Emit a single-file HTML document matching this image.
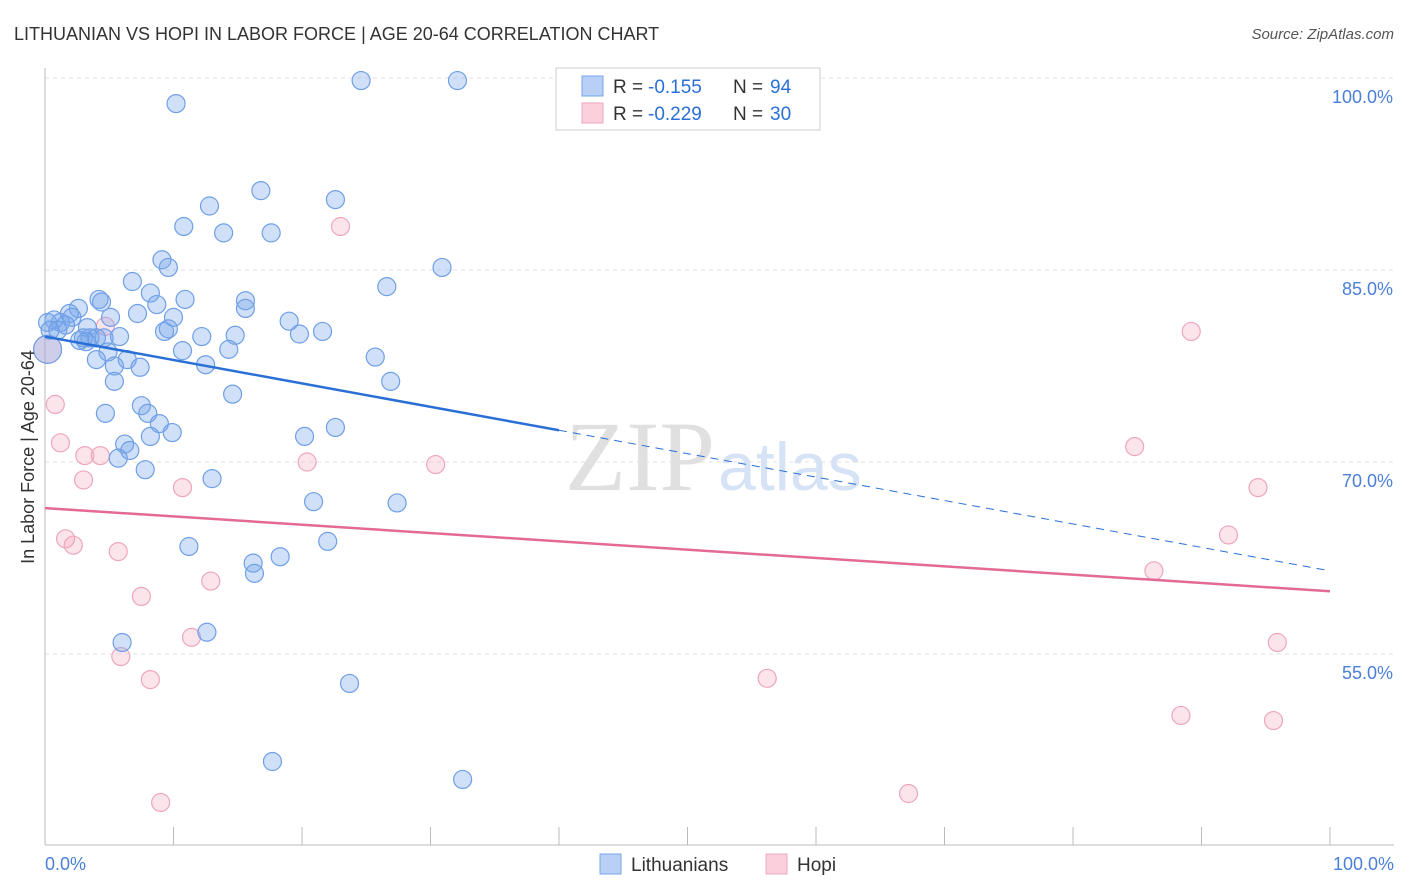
<!DOCTYPE html>
<html><head><meta charset="utf-8"><style>
body{margin:0;background:#fff;font-family:"Liberation Sans",sans-serif;}
svg{display:block}
</style></head><body>
<svg id="chart" width="1406" height="892" xmlns="http://www.w3.org/2000/svg">
<text x="14" y="40" font-size="18" fill="#333">LITHUANIAN VS HOPI IN LABOR FORCE | AGE 20-64 CORRELATION CHART</text>
<text x="1394" y="39" font-size="15" fill="#555" font-style="italic" text-anchor="end">Source: ZipAtlas.com</text>
<text x="715" y="490" font-size="100" fill="#e0e0e0" text-anchor="end" font-family="Liberation Serif,serif">ZIP</text>
<text x="718" y="490" font-size="68" fill="#d6e2f5">atlas</text>
<g id="grid"></g><g id="axes"></g><g id="marks"></g>
<text transform="translate(34,457) rotate(-90)" font-size="18" fill="#333" text-anchor="middle">In Labor Force | Age 20-64</text>
<text x="45" y="870" font-size="18" fill="#4a7fd8">0.0%</text>
<text x="1394" y="870" font-size="18" fill="#4a7fd8" text-anchor="end">100.0%</text>
<g>
<rect x="556" y="68" width="264" height="62" fill="#fff" stroke="#ccc"/>
<rect x="582" y="76" width="21" height="20" fill="#b8d0f5" stroke="#7aa5e8"/>
<rect x="582" y="103" width="21" height="20" fill="#fbcfdc" stroke="#eea7bd"/>
<text x="613" y="93" font-size="19" fill="#333">R =</text>
<text x="648" y="93" font-size="19" fill="#2a6fd6">-0.155</text>
<text x="733" y="93" font-size="19" fill="#333">N =</text>
<text x="770" y="93" font-size="19" fill="#2a6fd6">94</text>
<text x="613" y="120" font-size="19" fill="#333">R =</text>
<text x="648" y="120" font-size="19" fill="#2a6fd6">-0.229</text>
<text x="733" y="120" font-size="19" fill="#333">N =</text>
<text x="770" y="120" font-size="19" fill="#2a6fd6">30</text>
</g>
<g>
<rect x="600" y="854" width="21" height="20" fill="#b8d0f5" stroke="#7aa5e8"/>
<text x="631" y="871" font-size="19" fill="#333">Lithuanians</text>
<rect x="766" y="854" width="21" height="20" fill="#fbcfdc" stroke="#eea7bd"/>
<text x="797" y="871" font-size="19" fill="#333">Hopi</text>
</g>
</svg>
<script>
const yTicks=[100,85,70,55];
const yTickLabels=["100.0%","85.0%","70.0%","55.0%"];
const xTicks=[10,20,30,40,50,60,70,80,90,100];
const blueX=[24.6,32.1,10.2,16.8,22.6,12.8,10.8,13.9,17.6,9.1,9.6,30.9,6.8,26.6,8.2,4.2,4.4,10.9,15.6,8.7,15.6,7.2,10.0,2.6,1.9,2.1,0.7,1.2,1.6,0.2,19.0,5.1,21.6,19.8,3.3,9.3,9.6,3.0,3.5,4.0,4.6,5.8,12.2,14.8,3.2,4.9,10.7,14.3,25.7,4.0,6.4,5.4,7.4,12.5,5.4,26.9,14.6,7.5,4.7,8.0,8.9,9.9,8.2,20.2,22.6,6.2,6.6,5.7,7.8,13.0,20.9,27.4,11.2,22.0,18.3,16.2,16.3,6.0,12.6,23.7,17.7,32.5,0.4,1.0,2.7];
const blueY=[99.8,99.8,98.0,91.2,90.5,90.0,88.4,87.9,87.9,85.8,85.2,85.2,84.1,83.7,83.2,82.7,82.5,82.7,82.6,82.3,82.0,81.6,81.3,82.0,81.6,81.3,81.1,80.9,80.7,80.9,81.0,81.3,80.2,80.0,80.5,80.2,80.4,79.7,79.7,79.7,79.7,79.8,79.8,79.9,79.4,78.6,78.7,78.8,78.2,78.0,78.0,77.5,77.4,77.6,76.3,76.3,75.3,74.4,73.8,73.8,73.0,72.3,72.0,72.0,72.7,71.4,70.9,70.3,69.4,68.7,66.9,66.8,63.4,63.8,62.6,62.1,61.3,55.9,56.7,52.7,46.6,45.2,80.3,80.3,79.5];
const pinkX=[0.8,1.2,3.0,3.1,4.3,4.7,1.6,2.2,5.7,7.5,5.9,8.2,9.0,10.7,11.4,12.9,20.4,23.0,30.4,56.2,67.2,84.8,86.3,89.2,88.4,92.1,94.4,95.9,95.6];
const pinkY=[74.5,71.5,68.6,70.5,70.5,80.6,64.0,63.5,63.0,59.5,54.8,53.0,43.4,68.0,56.3,60.7,70.0,88.4,69.8,53.1,44.1,71.2,61.5,80.2,50.2,64.3,68.0,55.9,49.8];
const bigBlue=[0.2,78.8];
const bigPink=[0.2,78.8];
const blueTrend=[79.8,61.5];
const pinkTrend=[66.4,59.9];
const blueSolidEnd=40;

const NS="http://www.w3.org/2000/svg";
const X=v=>45+v*12.85;
const Y=v=>78+(100-v)*12.8;
function mk(p,t,a){const e=document.createElementNS(NS,t);for(const k in a)e.setAttribute(k,a[k]);p.appendChild(e);return e;}
const grid=document.getElementById('grid'),axes=document.getElementById('axes'),marks=document.getElementById('marks');
yTicks.forEach((t,i)=>{
 const l=mk(grid,'line',{x1:45,x2:1394,y1:Y(t),y2:Y(t),stroke:'#e2e2e2','stroke-dasharray':'4,4'});
 
 
 const tx=mk(grid,'text',{x:1393,y:Y(t)+25,'font-size':18,fill:'#4a7fd8','text-anchor':'end'});
 tx.textContent=yTickLabels[i];
 
 
});
let a=mk(axes,'line',{x1:45,x2:45,y1:68,y2:845,stroke:'#bbb'});


a=mk(axes,'line',{x1:45,x2:1394,y1:845,y2:845,stroke:'#bbb'});


xTicks.forEach(t=>{
 const l=mk(axes,'line',{x1:X(t),x2:X(t),y1:827,y2:845,stroke:'#bbb'});
 
 
});
function dot(x,y,r,blue,name){
 const c=mk(marks,'circle',{cx:X(x),cy:Y(y),r:r,fill:blue?'rgba(120,165,235,0.35)':'rgba(245,165,190,0.3)',stroke:blue?'#6f9fe6':'#eda6bd','stroke-width':1.2});
 
 
}
pinkX.forEach((x,i)=>dot(x,pinkY[i],9,false,'hopi-point'));
dot(bigPink[0],bigPink[1],14,false,'hopi-point');
dot(bigBlue[0],bigBlue[1],14,true,'lithuanian-point');
blueX.forEach((x,i)=>dot(x,blueY[i],9,true,'lithuanian-point'));
const bAt=v=>blueTrend[0]+(blueTrend[1]-blueTrend[0])*v/100;
const pAt=v=>pinkTrend[0]+(pinkTrend[1]-pinkTrend[0])*v/100;
let t=mk(marks,'line',{x1:X(0),y1:Y(bAt(0)),x2:X(blueSolidEnd),y2:Y(bAt(blueSolidEnd)),stroke:'#2a6fd6','stroke-width':2.5});


t=mk(marks,'line',{x1:X(blueSolidEnd),y1:Y(bAt(blueSolidEnd)),x2:X(100),y2:Y(bAt(100)),stroke:'#2a6fd6','stroke-width':1,'stroke-dasharray':'8,6'});


t=mk(marks,'line',{x1:X(0),y1:Y(pAt(0)),x2:X(100),y2:Y(pAt(100)),stroke:'#e46a95','stroke-width':2.5});


</script>
</body></html>
